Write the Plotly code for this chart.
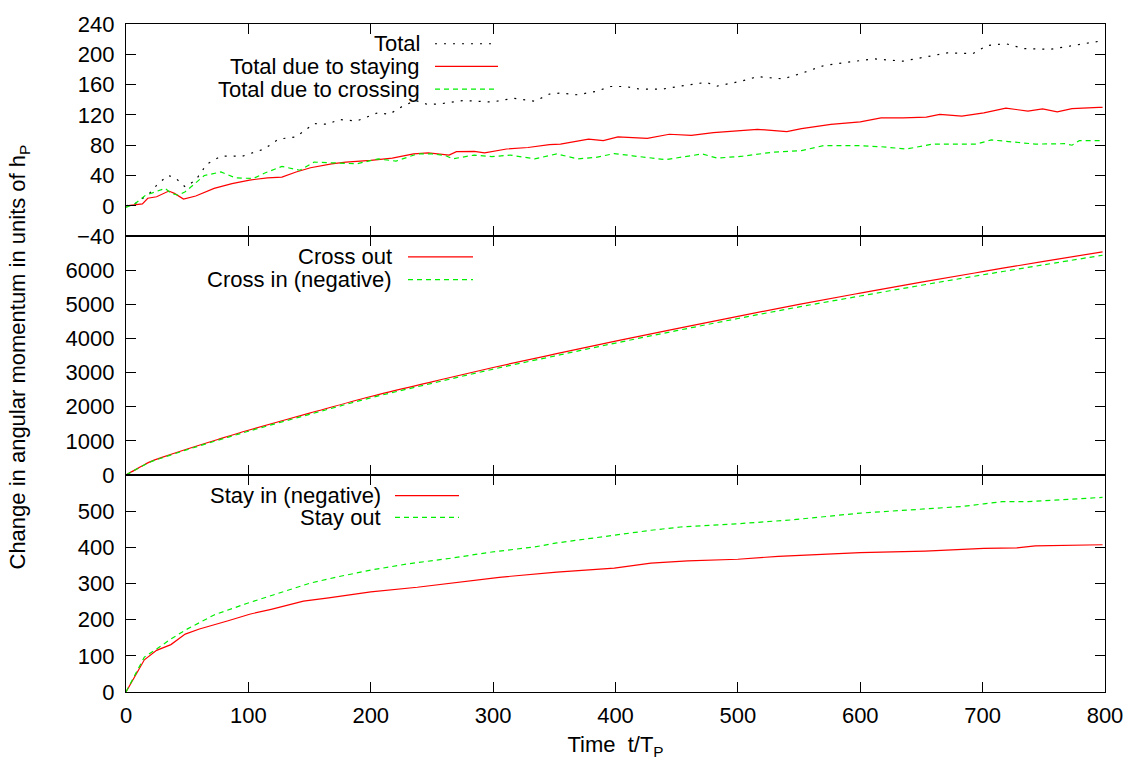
import plotly.graph_objects as go

# ---------------- data ----------------
# Panel 1 (top)
t_total = [0, 7.6, 19, 25, 34, 39.6, 48.4, 57, 66, 77.6, 95, 101, 113, 124.6, 139, 153.6, 165, 174,
           188.6, 206, 215, 226, 236.6, 247, 258.5, 276, 299, 316.9, 334, 346, 355, 369, 384, 396,
           408, 420, 438, 456, 474, 483, 504, 516, 537, 552, 570, 587, 611, 635, 654, 671, 692,
           704, 719, 734, 755, 773, 795, 798]
v_total = [0, 3, 16, 27, 40, 38, 25, 34, 55, 65.5, 65.5, 68.5, 75, 88, 91, 108.5, 107.6, 114,
           112, 123, 120.6, 131.5, 139, 133.6, 135, 139, 137, 142, 138, 147.5, 148.8, 146.6, 151, 157.5,
           157.5, 154, 154, 158.8, 163, 158, 165, 170.5, 167.5, 175, 185, 189, 194, 191, 196.6, 201.8, 201,
           211.7, 214, 207.5, 206.5, 211, 217, 218]

t_stay = [0, 13.4, 17.8, 25, 35, 39.6, 47, 57, 72, 86.6, 101, 115.6, 127.4, 139, 150.8, 168, 179.7,
          200, 217.6, 235, 247, 264, 270, 284.6, 293, 311, 328.5, 346, 355, 378, 390, 402, 426, 444,
          462, 480, 516, 540, 552, 576, 600, 617, 635, 654, 665, 683, 701, 719, 737, 749, 761, 773,
          795, 798]
v_stay = [0, 2.6, 10, 12, 19.5, 16.4, 9, 13, 23, 29.4, 34, 37, 38, 44.7, 50.3, 55.5, 57.7,
          60, 63, 68.5, 70, 67, 71.6, 72, 70, 75, 77, 80.7, 81.5, 88, 86, 91, 89, 94.5,
          93, 96.7, 101, 98, 102, 107.6, 110.7, 116, 116, 117, 120.6, 118.5, 122.8, 129, 125, 128, 124, 128.4,
          130, 130]

t_cross = [0, 7.6, 16, 25, 32, 37, 42.6, 48.4, 56, 64, 77.6, 89.3, 104, 113, 127.4, 142, 153.6, 168,
           188.6, 206, 220.6, 238, 250, 261, 267, 284.6, 299, 314, 334, 352, 369, 384, 399, 414, 441,
           471, 483, 504, 528, 552, 570, 600, 617, 638, 659, 677, 695, 707, 728, 743, 767, 773, 779,
           795, 798]
v_cross = [-2, 3, 14, 18.6, 23, 16.4, 14, 18.6, 29.4, 40, 44.7, 37, 36, 43, 52, 47, 57.7, 56.4,
           55.5, 62, 59, 68.5, 68.5, 66.4, 62, 67, 65, 67, 62, 68.5, 62, 64, 69, 66, 61,
           68.5, 63, 65.5, 70.7, 72.9, 79.4, 79.4, 78, 75, 81.5, 81.5, 81.5, 87, 83.7, 81.5, 82, 80, 86,
           86, 86]

# Panel 2 (middle)
t_mid = [0, 10, 20, 30, 50, 75, 100, 150, 200, 250, 300, 350, 400, 450, 500, 550, 600, 650, 700, 750, 798]
v_cross_out = [0, 200, 390, 520, 760, 1040, 1310, 1810, 2300, 2730, 3150, 3540, 3920, 4290, 4650,
               5000, 5330, 5650, 5960, 6260, 6540]
v_cross_in = [0, 195, 380, 505, 740, 1015, 1280, 1775, 2260, 2685, 3100, 3485, 3865, 4230, 4585,
              4925, 5245, 5560, 5865, 6160, 6440]

# Panel 3 (bottom)
t_stay_in = [0, 15, 25, 36.7, 48.4, 60, 83.5, 101, 118.6, 145, 165.6, 200, 238, 276, 305, 352, 399,
             429, 459, 500, 533, 600, 653, 701, 728, 743, 794, 798]
v_stay_in = [0, 89, 115, 131, 160, 174, 197, 215, 228.6, 251, 260, 277, 289.6, 304, 317, 331.5, 342.5,
             356, 362.5, 367, 375, 385, 389.5, 396.7, 398.6, 404, 407.6, 407]
t_stay_out = [0, 15, 25, 36.7, 48.4, 72, 98, 130, 150.6, 174, 200, 232, 264, 299, 334, 352, 384, 400,
              429, 453, 500, 545, 600, 653, 683, 701, 716, 737, 794, 798]
v_stay_out = [0, 96.5, 119, 146.5, 171, 213, 244, 278.7, 301, 319, 337, 355, 369, 387, 401, 412, 426, 435,
              447, 456, 465, 476, 494.5, 506, 512.7, 520, 526, 526, 538, 538]

x_ticks = [0, 100, 200, 300, 400, 500, 600, 700, 800]
y1_ticks = [-40, 0, 40, 80, 120, 160, 200, 240]
y2_ticks = [0, 1000, 2000, 3000, 4000, 5000, 6000]
y3_ticks = [0, 100, 200, 300, 400, 500]

# ---------------- styling ----------------
W, H = 1134, 761
ML, MR, MT, MB = 126, 29, 15, 69
PW, PH = W - ML - MR, H - MT - MB
FONT = "Liberation Sans, Arial, Helvetica, sans-serif"
FS = 22
RED = "#ff0000"
GREEN = "#00ee00"
BLACK = "#000000"
LW = 1.3


def px_x(px):
    return (px - ML) / PW


def px_y(py):
    return (H - MB - py) / PH


dom3 = [0, px_y(472)]
dom2 = [px_y(472), px_y(230)]
dom1 = [px_y(230), 1]

fig = go.Figure()

fig.add_trace(go.Scatter(x=t_total, y=v_total, mode="lines", xaxis="x", yaxis="y",
                         line=dict(color=BLACK, width=1.2, dash="2px,7px"), name="Total"))
fig.add_trace(go.Scatter(x=t_stay, y=v_stay, mode="lines", xaxis="x", yaxis="y",
                         line=dict(color=RED, width=1.2), name="Total due to staying"))
fig.add_trace(go.Scatter(x=t_cross, y=v_cross, mode="lines", xaxis="x", yaxis="y",
                         line=dict(color=GREEN, width=1.2, dash="5px,4px"), name="Total due to crossing"))

fig.add_trace(go.Scatter(x=t_mid, y=v_cross_out, mode="lines", xaxis="x2", yaxis="y2",
                         line=dict(color=RED, width=1.2, shape="spline"), name="Cross out"))
fig.add_trace(go.Scatter(x=t_mid, y=v_cross_in, mode="lines", xaxis="x2", yaxis="y2",
                         line=dict(color=GREEN, width=1.2, dash="5px,4px", shape="spline"), name="Cross in (negative)"))

fig.add_trace(go.Scatter(x=t_stay_in, y=v_stay_in, mode="lines", xaxis="x3", yaxis="y3",
                         line=dict(color=RED, width=1.2), name="Stay in (negative)"))
fig.add_trace(go.Scatter(x=t_stay_out, y=v_stay_out, mode="lines", xaxis="x3", yaxis="y3",
                         line=dict(color=GREEN, width=1.2, dash="5px,4px"), name="Stay out"))

common_x = dict(range=[0, 800], tickvals=x_ticks, ticks="inside", ticklen=10, tickwidth=1,
                tickcolor=BLACK, showline=True, linecolor=BLACK, linewidth=LW, mirror="allticks",
                showgrid=False, zeroline=False)
common_y = dict(ticks="inside", ticklen=10, tickwidth=1, tickcolor=BLACK, showline=True,
                linecolor=BLACK, linewidth=LW, mirror="allticks", showgrid=False, zeroline=False,
                ticklabelstandoff=6)

fig.update_layout(
    width=W, height=H,
    margin=dict(l=ML, r=MR, t=MT, b=MB),
    paper_bgcolor="white", plot_bgcolor="white",
    font=dict(family=FONT, size=FS, color=BLACK),
    showlegend=False,
    xaxis=dict(common_x, anchor="y", showticklabels=False),
    xaxis2=dict(common_x, anchor="y2", matches="x", showticklabels=False),
    xaxis3=dict(common_x, anchor="y3", matches="x", showticklabels=True, ticklabelstandoff=3,
                automargin=False,
                title=dict(text="Time\u00a0\u00a0t/T<sub>P</sub>", standoff=10, font=dict(size=FS))),
    yaxis=dict(common_y, domain=dom1, anchor="x", range=[-40, 240], tickvals=y1_ticks),
    yaxis2=dict(common_y, domain=dom2, anchor="x2", range=[0, 7000], tickvals=y2_ticks),
    yaxis3=dict(common_y, domain=dom3, anchor="x3", range=[0, 600], tickvals=y3_ticks),
)

# y-axis title
fig.add_annotation(text="Change in angular momentum in units of h<sub>P</sub>", xref="paper", yref="paper",
                   x=px_x(19), y=px_y(353), xanchor="center", yanchor="middle", textangle=-90,
                   showarrow=False, font=dict(size=FS))

# gnuplot-style keys: text right-aligned, sample line to the right
keys = [
    ("Total", BLACK, "2px,7px", 421, 435, 498, 35),
    ("Total due to staying", RED, "solid", 421, 435, 498, 58),
    ("Total due to crossing", GREEN, "5px,4px", 421, 435, 498, 81),
    ("Cross out", RED, "solid", 393, 408, 473, 251),
    ("Cross in (negative)", GREEN, "5px,4px", 393, 408, 473, 274),
    ("Stay in (negative)", RED, "solid", 382, 395, 459, 493),
    ("Stay out", GREEN, "5px,4px", 382, 395, 459, 515),
]
for label, col, dash, tx, sx0, sx1, yy in keys:
    fig.add_annotation(text=label, xref="paper", yref="paper", x=px_x(tx), y=px_y(yy),
                       xanchor="right", yanchor="middle", showarrow=False, font=dict(size=FS),
                       borderpad=0)
    fig.add_shape(type="line", xref="paper", yref="paper", x0=px_x(sx0), x1=px_x(sx1),
                  y0=px_y(yy), y1=px_y(yy), line=dict(color=col, width=1.2, dash=dash))

fig.write_html("out.html")
